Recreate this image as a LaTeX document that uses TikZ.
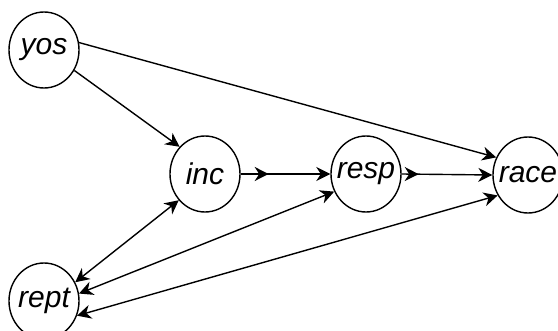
\documentclass[tikz,border=0pt]{standalone}
\usepackage{fontspec}
\setmainfont{Liberation Sans}
\usetikzlibrary{shapes.geometric,arrows.meta,decorations.markings}
\tikzset{
  dagnode/.style={ellipse,draw,line width=1.4pt,minimum width=70pt,minimum height=76pt,
    inner sep=0pt,font=\fontsize{30}{36}\selectfont\itshape},
  dagarrow/.style={line width=1.4pt,-{Stealth[length=14pt,width=14pt,inset=4.5pt]}},
  bidarrow/.style={line width=1.4pt,{Stealth[length=14pt,width=14pt,inset=4.5pt]}-{Stealth[length=14pt,width=14pt,inset=4.5pt]}},
  midarrow/.style={postaction={decorate},
    decoration={markings,mark=at position #1 with {\arrow{Stealth[length=14pt,width=14pt,inset=4.5pt]}}}}
}
\begin{document}
\begin{tikzpicture}[x=1pt,y=-1pt]
\useasboundingbox (0,0) rectangle (558,331);
\clip (0,0) rectangle (558,331);
\node[dagnode] (yos)  at (44,50)   {\makebox[0pt]{yos}};
\node[dagnode] (inc)  at (205,174) {\makebox[0pt]{inc}};
\node[dagnode] (resp) at (366,174) {\makebox[0pt]{\raisebox{-2pt}{resp}}};
\node[dagnode] (race) at (528,175) {\makebox[0pt]{race}};
\node[dagnode] (rept) at (44,301)  {\makebox[0pt]{rept}};
\draw[dagarrow] (yos.12) -- (race.151);
\draw[dagarrow] (yos.-34) -- (inc.133);
\draw[dagarrow,midarrow=28pt] (inc.east) -- (resp.west);
\draw[dagarrow,midarrow=17pt] (resp.east) -- (race.west);
\draw[bidarrow] (rept.31) -- (inc.225);
\draw[bidarrow] (rept.12) -- (resp.209);
\draw[bidarrow] (rept.-24) -- (race.214);
\end{tikzpicture}
\end{document}
